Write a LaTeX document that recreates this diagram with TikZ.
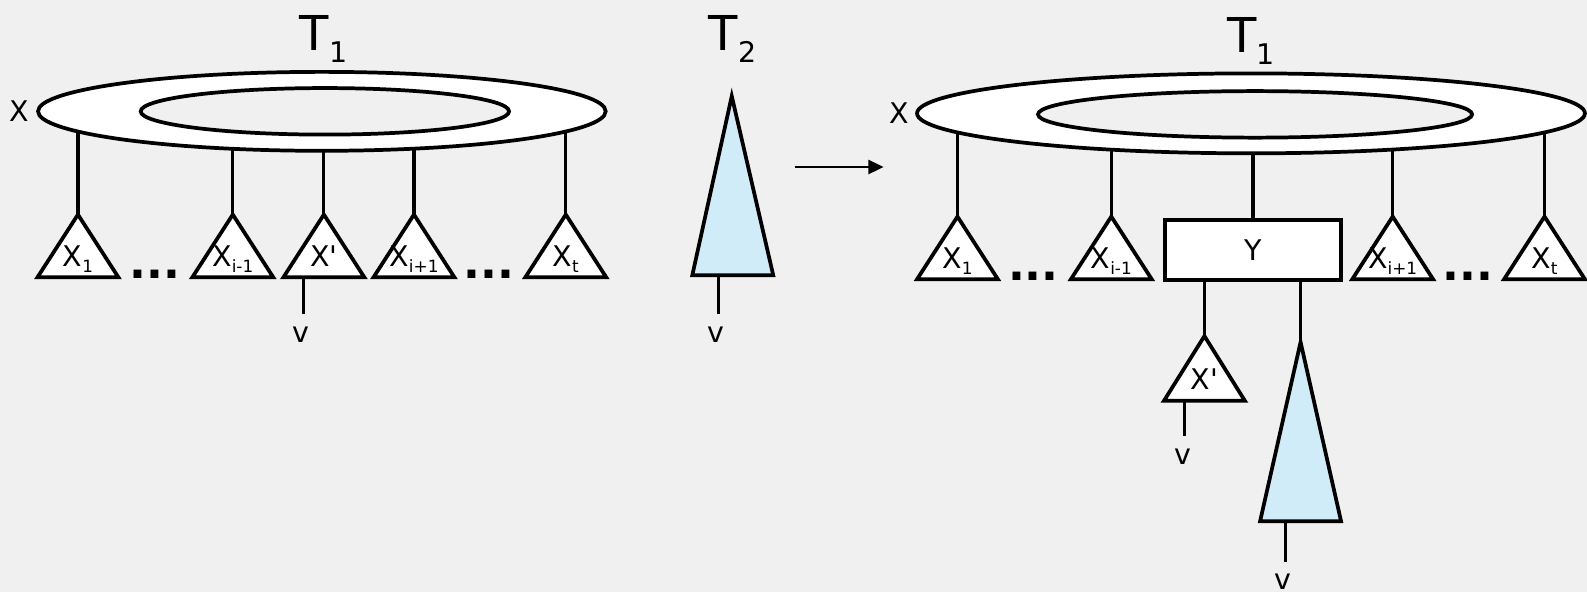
\documentclass[tikz,border=0pt]{standalone}
\usepackage{fontspec}
\setmainfont{DejaVu Sans}
\usetikzlibrary{arrows.meta,shapes.geometric}
\definecolor{fond}{HTML}{F0F0F0}
\definecolor{bleuclair}{HTML}{D0ECF9}
\newcommand\tsub[1]{\raisebox{-0.12cm}{\fontsize{9.5}{9.5}\selectfont #1}}
\newcommand\tgrand[2]{{\fontsize{27}{27}\selectfont #1}\raisebox{-0.23cm}{\fontsize{16}{16}\selectfont #2}}

\begin{document}
\begin{tikzpicture}[x=0.02cm,y=-0.02cm,
  lien/.style={line width=1.8pt},
  contour/.style={line width=2.1pt},
  etiq/.style={font=\fontsize{16}{16}\selectfont,inner sep=0pt},
  titre/.style={anchor=base west,inner sep=0pt},
  points/.style={font=\fontsize{25}{25}\selectfont\bfseries,inner sep=0pt,anchor=base},
  arbre/.style={contour,fill=white},
  arbrebleu/.style={contour,fill=bleuclair},
  anneau/.style={contour,draw,fill=white,ellipse,inner sep=0pt},
  trou/.style={contour,draw,fill=fond,ellipse,inner sep=0pt}]
  \fill[fond] (0,0) rectangle (1568,585);
  \useasboundingbox (0,0) rectangle (1568,585);

  % avant : T1 et T2
  \coordinate (cA) at (318,110);
  \foreach \cx/\lab/\nm in {77/X\tsub{1}/a1,230/X\tsub{i-1}/a2,320/X\textquotesingle/ap,409/X\tsub{i+1}/a3,559/X\tsub{t}/a4}{
    \coordinate (\nm) at (\cx,212);
    \draw[lien] (cA -| \nm) -- (\nm);
    \draw[arbre] (\nm) -- ++(40,62) -- ++(-80,0) -- cycle;
    \node[etiq,anchor=base] (\nm-t) at (\cx,263) {\lab};
  }
  \node[anneau,minimum width=11.22cm,minimum height=1.56cm] (anneauA) at (cA) {};
  \node[trou,minimum width=7.28cm,minimum height=0.92cm] (trouA) at (321,110) {};
  \node[etiq] (xA) at (19,110) {X};
  \node[titre] (tA) at (296,50) {\tgrand{T}{1}};
  \node[points] (pA1) at (153,275) {...};
  \node[points] (pA2) at (483,275) {...};
  \coordinate (vA0) at (300,274); \coordinate (vA1) at (300,310);
  \draw[lien] (vA0) -- (vA1);
  \node[etiq,anchor=base] (vA) at (297,338) {v};

  \node[titre] (tB) at (700,50) {\tgrand{T}{2}};
  \coordinate (bA) at (723,95);
  \draw[arbrebleu] (bA) -- (764,272) -- (684,272) -- cycle;
  \coordinate (vB0) at (710,272); \coordinate (vB1) at (710,310);
  \draw[lien] (vB0) -- (vB1);
  \node[etiq,anchor=base] (vB) at (707,338) {v};

  \coordinate (flA) at (785,165); \coordinate (flB) at (873,165);
  \draw[line width=1.1pt,-{Triangle[length=0.3cm,width=0.28cm]}] (flA) -- (flB);

  % apres : T2 greffe sous Y
  \coordinate (cB) at (1236,112);
  \foreach \cx/\lab/\nm in {946/X\tsub{1}/b1,1098/X\tsub{i-1}/b2,1376/X\tsub{i+1}/b3,1526/X\tsub{t}/b4}{
    \coordinate (\nm) at (\cx,214);
    \draw[lien] (cB -| \nm) -- (\nm);
    \draw[arbre] (\nm) -- ++(40,62) -- ++(-80,0) -- cycle;
    \node[etiq,anchor=base] (\nm-t) at (\cx,265) {\lab};
  }
  \node[contour,draw,fill=white,minimum width=3.48cm,minimum height=1.2cm,etiq] (boiteY) at (1238,247) {Y};
  \draw[lien] (cB -| boiteY.north) -- (boiteY.north);
  \node[anneau,minimum width=13.2cm,minimum height=1.58cm] (anneauB) at (cB) {};
  \node[trou,minimum width=8.58cm,minimum height=0.92cm] (trouB) at (1240,113) {};
  \node[etiq] (xB) at (888,112) {X};
  \node[titre] (tC) at (1212,52) {\tgrand{T}{1}};
  \node[points] (pB1) at (1021,277) {...};
  \node[points] (pB2) at (1450,277) {...};

  \coordinate (bq) at (1190,332);
  \draw[lien] (boiteY.south -| bq) -- (bq);
  \draw[arbre] (bq) -- ++(40,64) -- ++(-80,0) -- cycle;
  \node[etiq,anchor=base] (bq-t) at (1190,385) {X\textquotesingle};
  \coordinate (vC0) at (1170,396); \coordinate (vC1) at (1170,431);
  \draw[lien] (vC0) -- (vC1);
  \node[etiq,anchor=base] (vC) at (1169,459) {v};

  \coordinate (bB) at (1285,338);
  \draw[lien] (boiteY.south -| bB) -- (bB);
  \draw[arbrebleu] (bB) -- (1325,515) -- (1245,515) -- cycle;
  \coordinate (vD0) at (1270,515); \coordinate (vD1) at (1270,555);
  \draw[lien] (vD0) -- (vD1);
  \node[etiq,anchor=base] (vD) at (1268,582) {v};
\end{tikzpicture}
\end{document}
